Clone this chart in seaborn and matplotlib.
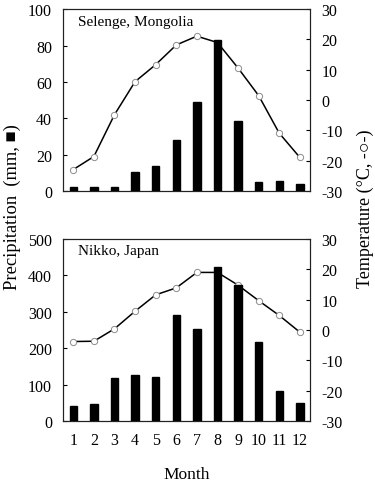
import matplotlib
matplotlib.use('Agg')
import matplotlib.pyplot as plt
import seaborn as sns
import numpy as np
import pandas as pd

months = [1, 2, 3, 4, 5, 6, 7, 8, 9, 10, 11, 12]

selenge_precip = [2, 2, 2.5, 10.5, 14, 28, 49, 83, 38.5, 5, 5.5, 4]
selenge_temp = [-22.9, -18.6, -4.8, 6.1, 11.7, 18.2, 21.1, 19.0, 10.6, 1.5, -10.9, -18.9]

nikko_precip = [42, 47, 118, 127, 120, 290, 252, 422, 375, 217, 83, 50]
nikko_temp = [-3.8, -3.7, 0.4, 6.2, 11.6, 13.9, 19.0, 19.0, 14.8, 9.7, 4.8, -0.7]

sites = ['Selenge, Mongolia', 'Nikko, Japan']

sns.set_style('white')
plt.rcParams['font.family'] = ['Liberation Serif', 'DejaVu Sans']
plt.rcParams['font.size'] = 11.5
plt.rcParams['text.color'] = 'black'
plt.rcParams['xtick.color'] = 'black'
plt.rcParams['ytick.color'] = 'black'
plt.rcParams['axes.unicode_minus'] = False

fig = plt.figure(figsize=(3.75, 4.85), dpi=100)
ax_top = fig.add_axes([0.168, 0.604, 0.659, 0.375])
ax_bot = fig.add_axes([0.168, 0.130, 0.659, 0.375])

panels = [(ax_top, selenge_precip, selenge_temp, 100, 20),
          (ax_bot, nikko_precip, nikko_temp, 500, 100)]

for i, (ax, precip, temp, ymax, ystep) in enumerate(panels):
    df = pd.DataFrame({'month': months, 'precip': precip, 'temp': temp})

    # temperature line on the twin axis, kept behind the bars
    ax2 = ax.twinx()
    sns.lineplot(data=df, x='month', y='temp', color='black', lw=1.1, ax=ax2,
                 marker='o', markersize=4.5, markerfacecolor='white',
                 markeredgecolor='#8c8c8c', markeredgewidth=0.7)
    ax2.set_ylim(-30, 30)
    ax2.set_yticks(np.arange(-30, 31, 10))
    ax2.set_xlim(0.5, 12.5)
    ax2.set_ylabel('')
    ax2.set_xlabel('')
    ax2.tick_params(axis='y', direction='in', length=3, width=0.8,
                    labelsize=11.5, pad=8)
    ax.set_zorder(ax2.get_zorder() + 1)
    ax.patch.set_visible(False)

    sns.barplot(data=df, x='month', y='precip', native_scale=True, width=0.36,
                color='black', edgecolor='black', saturation=1, ax=ax)
    ax.set_xlim(0.5, 12.5)
    ax.set_ylim(0, ymax)
    ax.set_yticks(np.arange(0, ymax + 1, ystep))
    ax.set_xticks(months)
    ax.set_xlabel('')
    ax.set_ylabel('')
    ax.tick_params(axis='y', direction='in', length=3, width=0.8,
                   labelsize=11.5, pad=8)
    ax.tick_params(axis='x', length=0, labelsize=11.5, pad=8)
    if i == 0:
        ax.set_xticklabels([])
    for a in (ax, ax2):
        for s in a.spines.values():
            s.set_color('#222222')
            s.set_linewidth(0.8)
    ax.text(0.06, 0.935, sites[i], transform=ax.transAxes, fontsize=11,
            va='center', ha='left')

fig.text(0.032, 0.573, 'Precipitation  (mm, \u25a0)', rotation=90,
         ha='center', va='center', fontsize=13.3)
fig.text(0.973, 0.569, 'Temperature (\u00b0C, -\u25cb-)', rotation=90,
         ha='center', va='center', fontsize=13)
fig.text(0.497, 0.021, 'Month', ha='center', va='center', fontsize=12.5)

fig.savefig('out.png', dpi=100)
